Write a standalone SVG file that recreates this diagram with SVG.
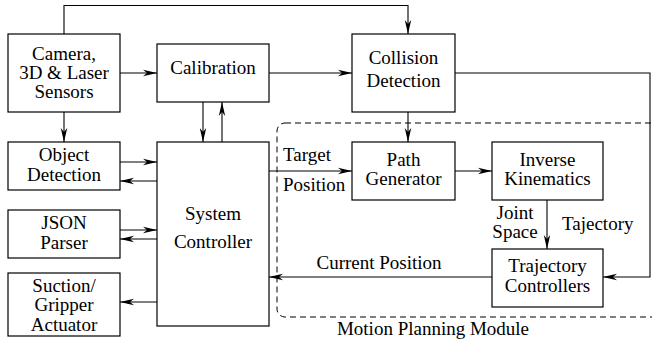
<svg xmlns="http://www.w3.org/2000/svg" width="652" height="343" viewBox="0 0 652 343">
  <style>
    text { font-family: "Liberation Serif", "Times New Roman", serif; font-size: 19px; fill: #000; text-anchor: middle; }
    .box { fill: #fff; stroke: #000; stroke-width: 1.2; }
    .wire { fill: none; stroke: #000; stroke-width: 1.1; marker-end: url(#arrow); }
    .module { fill: none; stroke: #000; stroke-width: 1; stroke-dasharray: 6 4; }
    .lbl { text-anchor: start; }
  </style>
  <defs>
    <marker id="arrow" markerUnits="userSpaceOnUse" markerWidth="15" markerHeight="8" refX="14" refY="4" orient="auto">
      <path d="M0,0.8 L14,4 L0,7.2 L4,4 Z" fill="#000"/>
    </marker>
  </defs>

  <rect fill="#fff" width="652" height="343"/>

  <!-- Motion planning module outline (runs past the right edge) -->
  <g id="motion-planning-module">
    <rect class="module" x="277" y="123" width="420" height="194" rx="8"/>
    <text x="433" y="335">Motion Planning Module</text>
  </g>

  <!-- connectors -->
  <g id="connectors">
    <path class="wire" d="M64,34 V5.5 H408 V34"/>
    <path class="wire" d="M120,73 H157"/>
    <path class="wire" d="M269,73 H352"/>
    <path class="wire" d="M64,112 V142"/>
    <path class="wire" d="M203,102 V142"/>
    <path class="wire" d="M222,142 V102"/>
    <path class="wire" d="M120,162 H157"/>
    <path class="wire" d="M157,181 H120"/>
    <path class="wire" d="M120,230 H157"/>
    <path class="wire" d="M157,239 H120"/>
    <path class="wire" d="M157,302 H120"/>
    <path class="wire" d="M269,171 H352"/>
    <path class="wire" d="M408,112 V142"/>
    <path class="wire" d="M455,171 H492"/>
    <path class="wire" d="M547,200 V249"/>
    <path class="wire" d="M455,73 H650 V277 H603"/>
    <path class="wire" d="M492,277 H269"/>
    <text class="lbl" x="283" y="161">Target</text>
    <text class="lbl" x="283" y="191">Position</text>
    <text x="515" y="219">Joint</text>
    <text x="515" y="238">Space</text>
    <text class="lbl" x="562" y="230">Tajectory</text>
    <text x="379" y="269">Current Position</text>
  </g>

  <g id="sensors">
    <rect class="box" x="8" y="34" width="112" height="78"/>
    <text x="64" y="60">Camera,</text>
    <text x="64" y="79">3D &amp; Laser</text>
    <text x="64" y="98">Sensors</text>
  </g>

  <g id="calibration">
    <rect class="box" x="157" y="44" width="112" height="58"/>
    <text x="213" y="74">Calibration</text>
  </g>

  <g id="collision-detection">
    <rect class="box" x="352" y="34" width="103" height="78"/>
    <text x="403.5" y="64">Collision</text>
    <text x="403.5" y="87">Detection</text>
  </g>

  <g id="object-detection">
    <rect class="box" x="8" y="142" width="112" height="48"/>
    <text x="64" y="161">Object</text>
    <text x="64" y="181">Detection</text>
  </g>

  <g id="json-parser">
    <rect class="box" x="8" y="210" width="112" height="48"/>
    <text x="64" y="229">JSON</text>
    <text x="64" y="249">Parser</text>
  </g>

  <g id="gripper-actuator">
    <rect class="box" x="8" y="273" width="112" height="63"/>
    <text x="64" y="292">Suction/</text>
    <text x="64" y="311">Gripper</text>
    <text x="64" y="331">Actuator</text>
  </g>

  <g id="system-controller">
    <rect class="box" x="157" y="142" width="112" height="184"/>
    <text x="213" y="220">System</text>
    <text x="213" y="248">Controller</text>
  </g>

  <g id="path-generator">
    <rect class="box" x="352" y="142" width="103" height="58"/>
    <text x="403.5" y="166">Path</text>
    <text x="403.5" y="185">Generator</text>
  </g>

  <g id="inverse-kinematics">
    <rect class="box" x="492" y="142" width="111" height="58"/>
    <text x="547.5" y="166">Inverse</text>
    <text x="547.5" y="185">Kinematics</text>
  </g>

  <g id="trajectory-controllers">
    <rect class="box" x="492" y="249" width="111" height="58"/>
    <text x="547.5" y="272">Trajectory</text>
    <text x="547.5" y="292">Controllers</text>
  </g>
</svg>
